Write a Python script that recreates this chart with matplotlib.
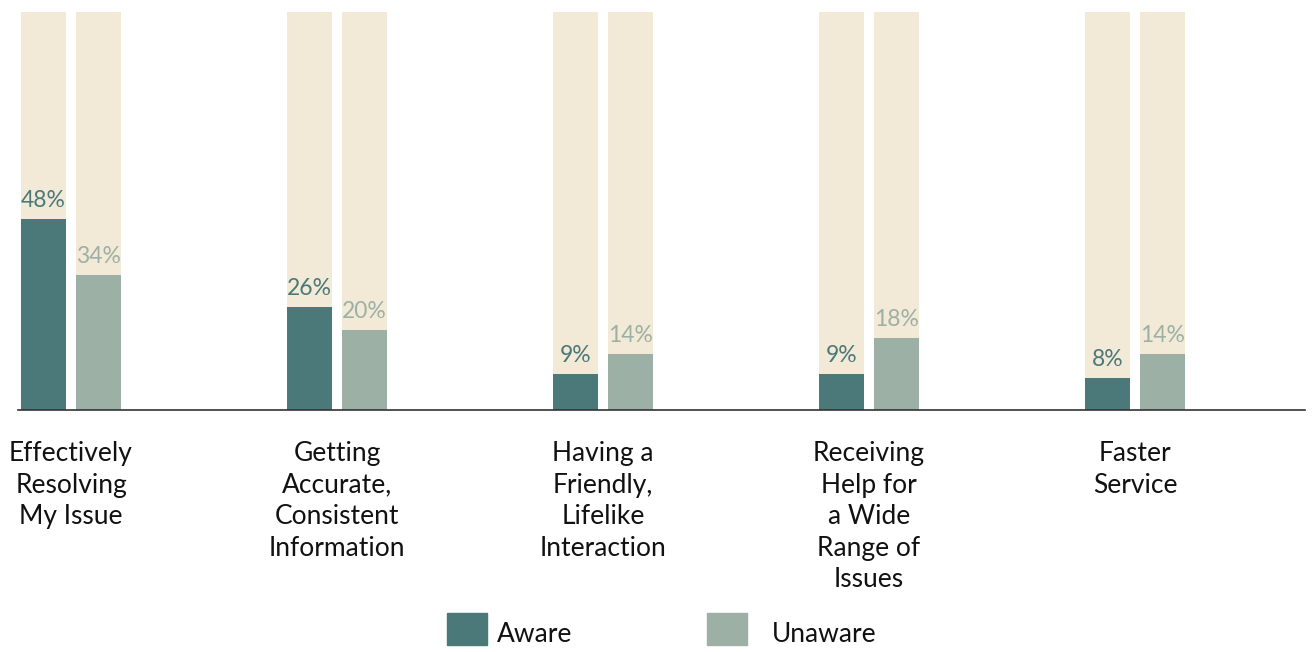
import matplotlib
matplotlib.use('Agg')
from matplotlib import pyplot as plt
from matplotlib.patches import Rectangle
import numpy as np

categories = ['Effectively\nResolving\nMy Issue',
              'Getting\nAccurate,\nConsistent\nInformation',
              'Having a\nFriendly,\nLifelike\nInteraction',
              'Receiving\nHelp for\na Wide\nRange of\nIssues',
              'Faster\nService']
aware = [48, 26, 9, 9, 8]
unaware = [34, 20, 14, 18, 14]
series_names = ['Aware', 'Unaware']

c_aware = '#4b7879'
c_unaware = '#9db0a5'
c_track = '#f2ead6'

fig = plt.figure(figsize=(13.12, 6.52), dpi=100)
ax = fig.add_axes([18/1312, 1 - 410/652, 1287/1312, 398/652])

x = np.arange(len(categories))
w = 45/266
off = 27.5/266

# full-height background tracks
ax.bar(x - off, [100]*len(x), width=w, color=c_track, zorder=1)
ax.bar(x + off, [100]*len(x), width=w, color=c_track, zorder=1)
ax.bar(x - off, aware, width=w, color=c_aware, zorder=2)
ax.bar(x + off, unaware, width=w, color=c_unaware, zorder=2)

for xi, v in zip(x, aware):
    ax.text(xi - off, v + 2.0, f'{v}%', ha='center', va='bottom', fontsize=16.5,
            family='Lato', color=c_aware, zorder=3)
for xi, v in zip(x, unaware):
    ax.text(xi + off, v + 2.0, f'{v}%', ha='center', va='bottom', fontsize=16.5,
            family='Lato', color=c_unaware, zorder=3)

for xi, lab in zip(x, categories):
    ax.text(xi, -7.8, lab, ha='center', va='top', fontsize=19,
            family='Lato', color='#111111', linespacing=1.33)

ax.set_xlim(-53/266, 1234/266)
ax.set_ylim(0, 100)
for s in ['top', 'right', 'left']:
    ax.spines[s].set_visible(False)
ax.spines['bottom'].set_color('#333333')
ax.spines['bottom'].set_linewidth(1.2)
ax.set_xticks([])
ax.set_yticks([])

# legend
for (px, tx), name, col in zip([(447, 497), (707, 772)], series_names, [c_aware, c_unaware]):
    fig.patches.append(Rectangle((px/1312, 1 - 645/652), 40/1312, 32/652,
                                 transform=fig.transFigure, color=col))
    fig.text(tx/1312, 1 - 634/652, name, ha='left', va='center',
             fontsize=19, family='Lato', color='#111111')

fig.savefig('out.png', dpi=100)
